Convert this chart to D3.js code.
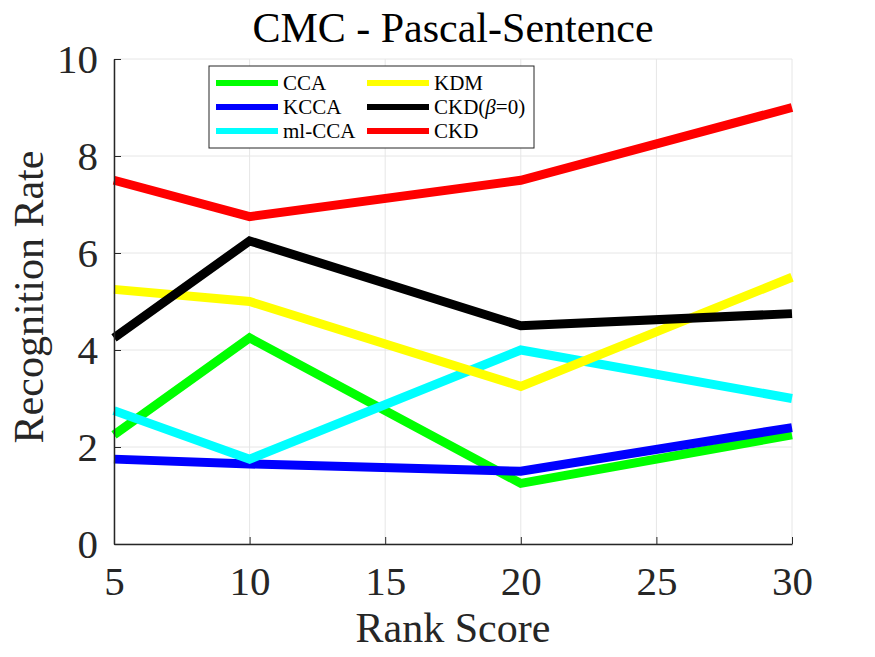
<!DOCTYPE html>
<html><head><meta charset="utf-8">
<script src="https://cdn.jsdelivr.net/npm/d3@7"></script>
<style>body{margin:0;background:#fff;} text{font-family:"Liberation Serif","Times New Roman",serif;}</style>
</head><body>
<svg id="c" width="875" height="657"></svg>
<script>
const rankScores = [5, 10, 20, 30];
const seriesNames = ["CCA", "KCCA", "ml-CCA", "KDM", "CKD(β=0)", "CKD"];
const valCCA   = [2.25, 4.25, 1.25, 2.25];
const valKCCA  = [1.75, 1.65, 1.5, 2.4];
const valMLCCA = [2.75, 1.75, 4.0, 3.0];
const valKDM   = [5.25, 5.0, 3.25, 5.5];
const valCKD0  = [4.25, 6.25, 4.5, 4.75];
const valCKD   = [7.5, 6.75, 7.5, 9.0];
const xTicks = [5, 10, 15, 20, 25, 30];
const yTicks = [0, 2, 4, 6, 8, 10];
const colors = ["#00ff00", "#0000ff", "#00ffff", "#ffff00", "#000000", "#ff0000"];
const allVals = [valCCA, valKCCA, valMLCCA, valKDM, valCKD0, valCKD];

const svg = d3.select("#c");
const L = 114, R = 792, T = 59, B = 544;
const x = d3.scaleLinear().domain([5, 30]).range([L, R]);
const y = d3.scaleLinear().domain([0, 10]).range([B, T]);

// grid
svg.append("g").selectAll("line").data(xTicks).join("line")
  .attr("x1", d => x(d)).attr("x2", d => x(d)).attr("y1", T).attr("y2", B)
  .attr("stroke", "#e6e6e6").attr("stroke-width", 1);
svg.append("g").selectAll("line").data(yTicks).join("line")
  .attr("x1", L).attr("x2", R).attr("y1", d => y(d)).attr("y2", d => y(d))
  .attr("stroke", "#e6e6e6").attr("stroke-width", 1);

// lines
const line = d3.line().x((d, i) => x(rankScores[i])).y(d => y(d));
allVals.forEach((vals, k) => {
  svg.append("path").attr("d", line(vals)).attr("fill", "none")
    .attr("stroke", colors[k]).attr("stroke-width", 9).attr("stroke-linejoin", "miter");
});

// axes
const xAxis = d3.axisBottom(x).tickValues(xTicks).tickSize(-7).tickPadding(22).tickSizeOuter(0);
const gx = svg.append("g").attr("transform", `translate(0,${B})`).call(xAxis);
gx.select(".domain").attr("stroke", "#262626").attr("stroke-width", 1.5);
gx.selectAll(".tick line").attr("stroke", "#262626");
gx.selectAll("text").attr("font-size", 41).attr("fill", "#262626").attr("font-family", "Liberation Serif");

const yAxis = d3.axisLeft(y).tickValues(yTicks).tickSize(-7).tickPadding(16).tickSizeOuter(0);
const gy = svg.append("g").attr("transform", `translate(${L},0)`).call(yAxis);
gy.select(".domain").attr("stroke", "#262626").attr("stroke-width", 1.5);
gy.selectAll(".tick line").attr("stroke", "#262626");
gy.selectAll("text").attr("font-size", 41).attr("fill", "#262626").attr("font-family", "Liberation Serif");

// title and labels
svg.append("text").attr("x", 453).attr("y", 42).attr("text-anchor", "middle")
  .attr("font-size", 42).attr("fill", "#000").text("CMC - Pascal-Sentence");
svg.append("text").attr("x", 453).attr("y", 642).attr("text-anchor", "middle")
  .attr("font-size", 42).attr("fill", "#262626").text("Rank Score");
svg.append("text").attr("transform", "translate(43,297) rotate(-90)").attr("text-anchor", "middle")
  .attr("font-size", 42).attr("fill", "#262626").text("Recognition Rate");

// legend
const lg = svg.append("g");
lg.append("rect").attr("x", 209).attr("y", 66).attr("width", 325).attr("height", 82)
  .attr("fill", "#fff").attr("stroke", "#262626").attr("stroke-width", 1);
seriesNames.forEach((name, k) => {
  const col = Math.floor(k / 3), row = k % 3;
  const lx = 216 + col * 151, ly = 83 + row * 24;
  lg.append("line").attr("x1", lx).attr("x2", lx + 62).attr("y1", ly).attr("y2", ly)
    .attr("stroke", colors[k]).attr("stroke-width", 6);
  const t = lg.append("text").attr("x", lx + 67).attr("y", ly + 7).attr("font-size", 21).attr("fill", "#000");
  if (name === "CKD(β=0)") {
    t.append("tspan").text("CKD(");
    t.append("tspan").attr("font-style", "italic").text("β");
    t.append("tspan").text("=0)");
  } else t.text(name);
});
</script>
</body></html>
